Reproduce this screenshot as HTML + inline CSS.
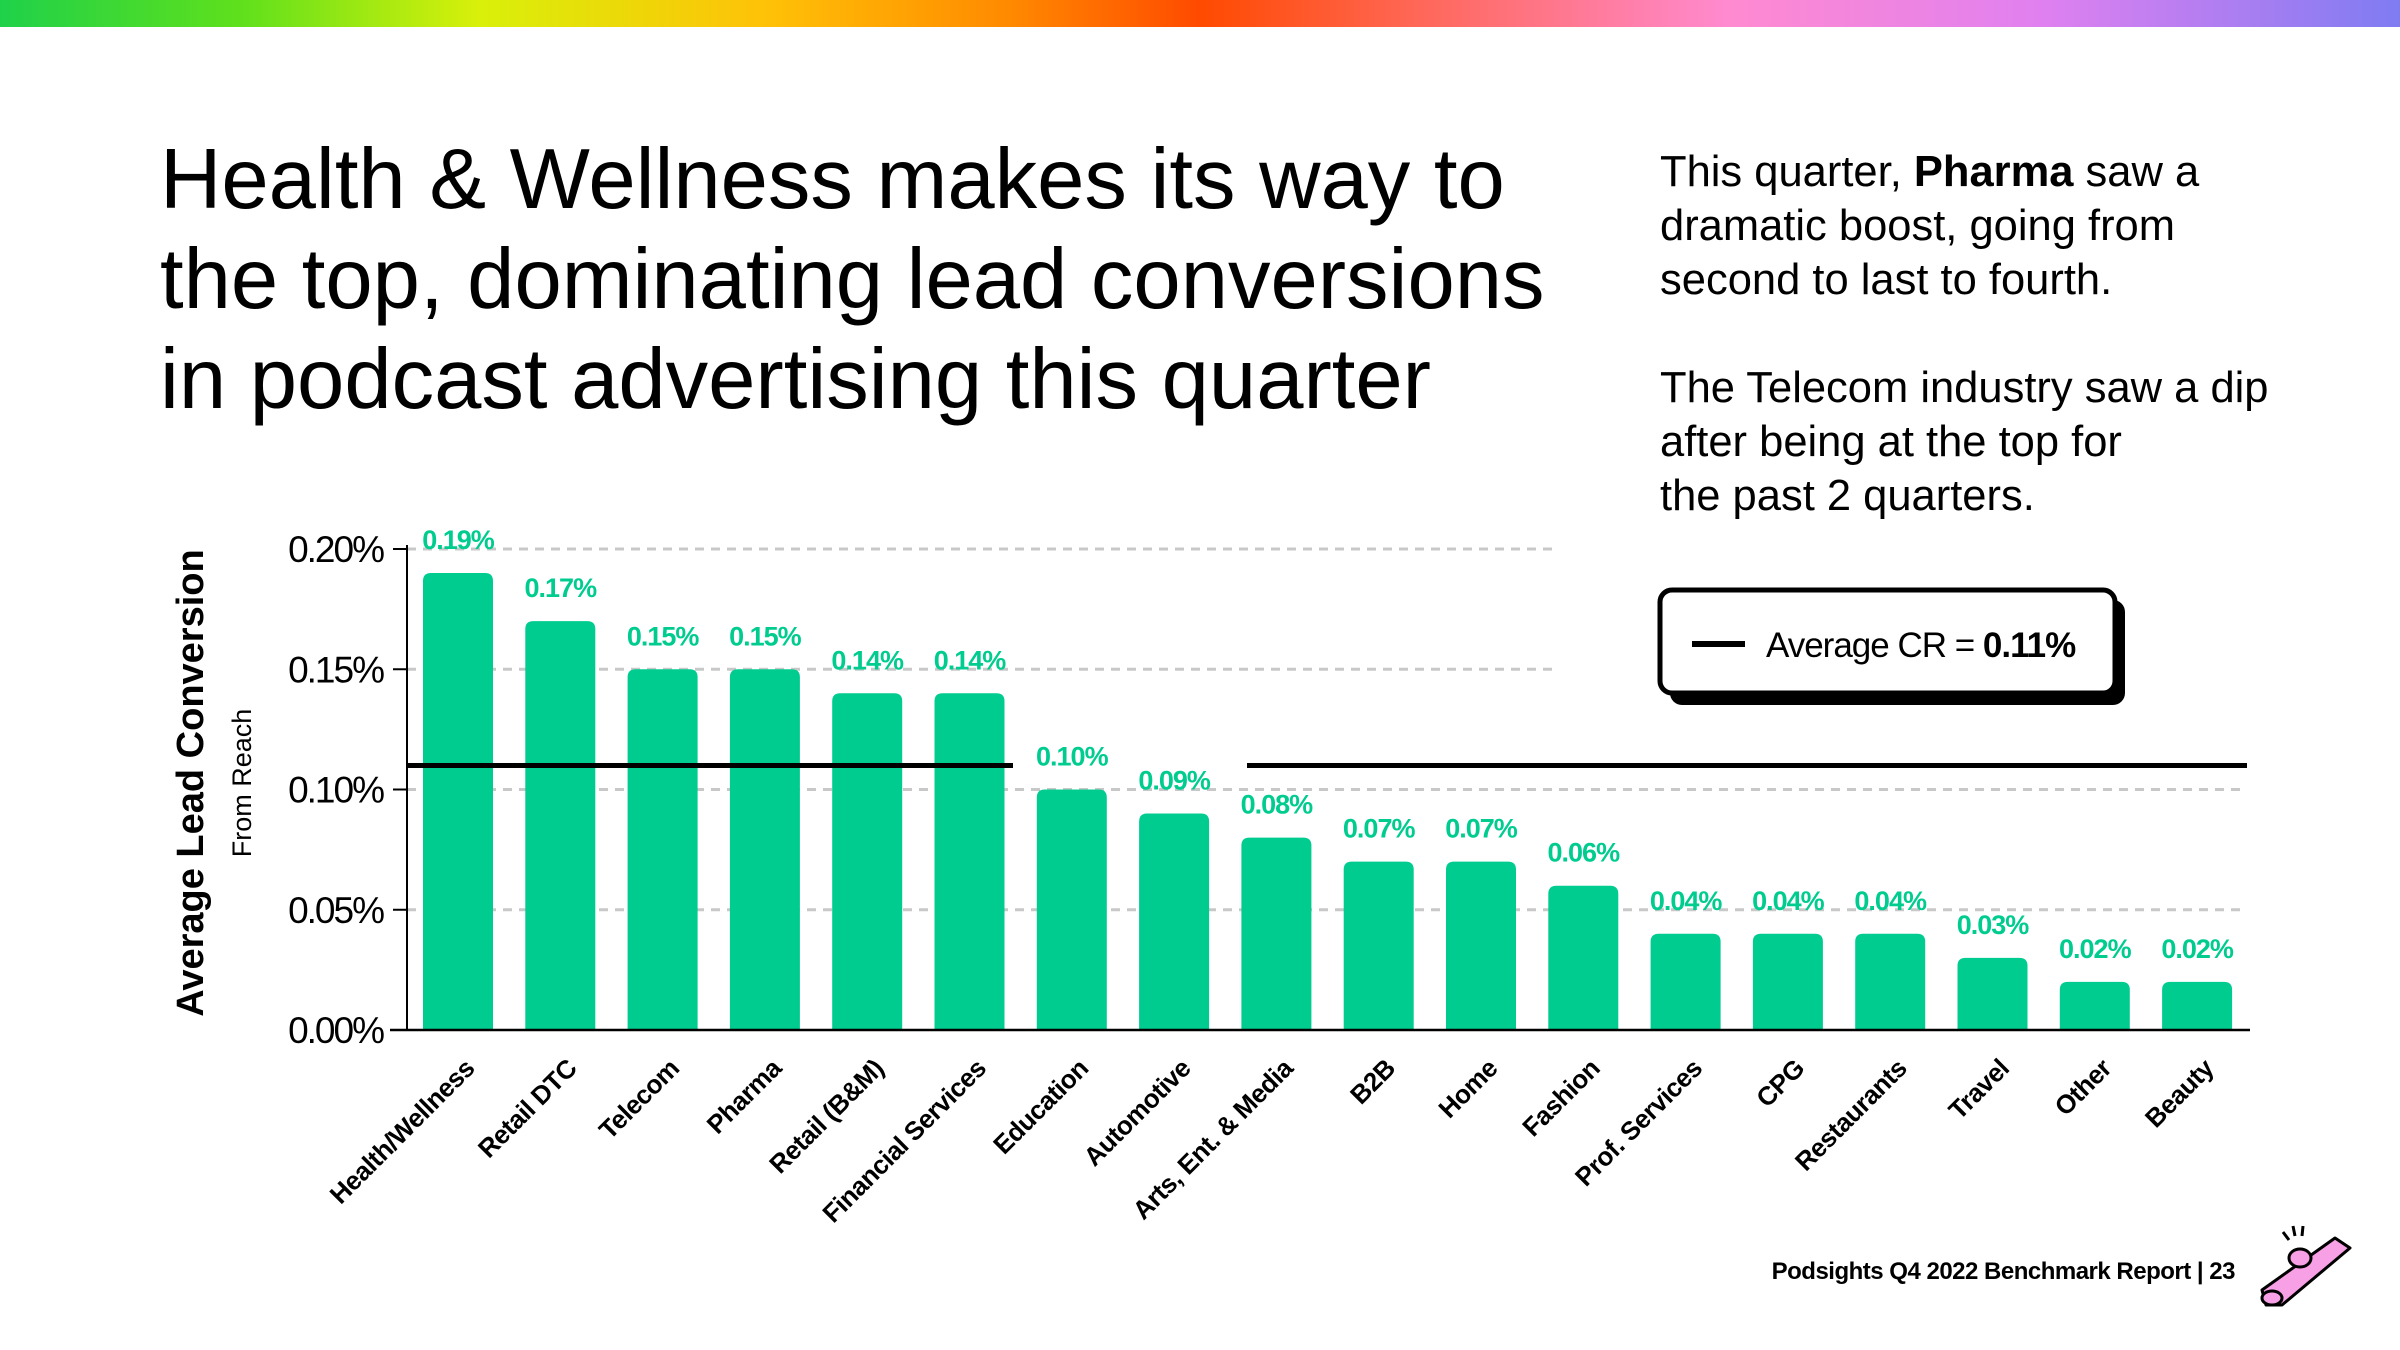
<!DOCTYPE html>
<html><head><meta charset="utf-8">
<style>
html,body{margin:0;padding:0;background:#fff;}
body{width:2400px;height:1350px;position:relative;overflow:hidden;font-family:"Liberation Sans","DejaVu Sans",sans-serif;color:#000;}
#rainbow{position:absolute;left:0;top:0;width:2400px;height:27px;background:linear-gradient(90deg,#1fd14a 0%,#5fe01c 10%,#d9f00a 20%,#ffc107 32%,#ff8a00 42%,#ff4a00 50%,#ff6a60 60%,#ff8ad0 72%,#e080f0 85%,#7f7cf2 100%);}
#title{position:absolute;left:160px;top:130px;font-size:85px;line-height:100px;letter-spacing:0;}
#side{position:absolute;left:1660px;top:145px;font-size:43.5px;line-height:54px;letter-spacing:0;}
#footer{position:absolute;right:165px;top:1258px;font-size:24px;font-weight:bold;letter-spacing:-0.5px;}
</style></head><body>
<div id="rainbow"></div>
<div id="title">Health &amp; Wellness makes its way to<br>the top, dominating lead conversions<br>in podcast advertising this quarter</div>
<div id="side">This quarter, <b>Pharma</b> saw a<br>dramatic boost, going from<br>second to last to fourth.<br><br>The Telecom industry saw a dip<br>after being at the top for<br>the past 2 quarters.</div>
<div id="footer">Podsights Q4 2022 Benchmark Report | 23</div>
<svg id="chart" width="2400" height="1350" style="position:absolute;left:0;top:0"></svg>
<script>
const categories=["Health/Wellness","Retail DTC","Telecom","Pharma","Retail (B&M)","Financial Services","Education","Automotive","Arts, Ent. & Media","B2B","Home","Fashion","Prof. Services","CPG","Restaurants","Travel","Other","Beauty"];
const values=[0.19,0.17,0.15,0.15,0.14,0.14,0.10,0.09,0.08,0.07,0.07,0.06,0.04,0.04,0.04,0.03,0.02,0.02];
const valueLabels=["0.19%","0.17%","0.15%","0.15%","0.14%","0.14%","0.10%","0.09%","0.08%","0.07%","0.07%","0.06%","0.04%","0.04%","0.04%","0.03%","0.02%","0.02%"];
const ticks=[0,0.05,0.10,0.15,0.20];
const tickLabels=["0.00%","0.05%","0.10%","0.15%","0.20%"];
const average=0.11;

const NS="http://www.w3.org/2000/svg";
const svg=document.getElementById('chart');
const x0=407,yBase=1030,yTop=549,step=102.3,firstC=458,bw=70;
function y(v){return yBase-(v/0.20)*(yBase-yTop);}
function xc(i){return firstC+i*step;}
function mk(t,a,p){const e=document.createElementNS(NS,t);for(const k in a)e.setAttribute(k,a[k]);(p||svg).appendChild(e);return e;}
const G="#00cc8f";
ticks.forEach((t,i)=>{
  const yy=y(t);
  if(t>0){
    const g=mk('line',{x1:x0,x2:t>=0.15?1555:2247,y1:yy,y2:yy,stroke:'#c8c8c8','stroke-width':3,'stroke-dasharray':'9 7'});
    
    
  }
  mk('line',{x1:x0-14,x2:x0,y1:yy,y2:yy,stroke:'#000','stroke-width':2});
  const tl=mk('text',{x:x0-24,y:yy+13,'text-anchor':'end','font-size':37,'letter-spacing':-2});
  tl.textContent=tickLabels[i];
  
  
});
values.forEach((v,i)=>{
  const top=y(v);
  const b=mk('path',{d:`M${xc(i)-bw/2},${yBase} V${top+8} Q${xc(i)-bw/2},${top} ${xc(i)-bw/2+8},${top} H${xc(i)+bw/2-8} Q${xc(i)+bw/2},${top} ${xc(i)+bw/2},${top+8} V${yBase} Z`,fill:G});
  
  
  const l=mk('text',{x:xc(i),y:top-24,'text-anchor':'middle','font-size':27,'font-weight':'bold',fill:G,'letter-spacing':-1});
  l.textContent=valueLabels[i];
  
  
  const c=mk('text',{x:0,y:0,'text-anchor':'end','font-size':26,'font-weight':'bold','letter-spacing':-0.5,transform:`translate(${xc(i)+18},${yBase+40}) rotate(-45)`});
  c.textContent=categories[i];
  
  
});
const ya=mk('line',{x1:x0,x2:x0,y1:yTop-4,y2:yBase,stroke:'#000','stroke-width':2});


const xa=mk('line',{x1:390,x2:2250,y1:yBase,y2:yBase,stroke:'#000','stroke-width':2.5});


const ay=y(average);
const a1=mk('line',{x1:x0,x2:1013,y1:ay,y2:ay,stroke:'#000','stroke-width':5});


const a2=mk('line',{x1:1247,x2:2247,y1:ay,y2:ay,stroke:'#000','stroke-width':5});


const yt=mk('text',{x:0,y:0,'text-anchor':'middle','font-size':38,'font-weight':'bold',transform:'translate(203,783) rotate(-90)'});
yt.textContent='Average Lead Conversion';


const ys=mk('text',{x:0,y:0,'text-anchor':'middle','font-size':27,transform:'translate(251,783) rotate(-90)'});
ys.textContent='From Reach';


const lg=mk('g',{});


mk('rect',{x:1670,y:600,width:455,height:105,rx:12,fill:'#000'},lg);
mk('rect',{x:1660,y:590,width:455,height:103,rx:12,fill:'#fff',stroke:'#000','stroke-width':5},lg);
mk('line',{x1:1692,x2:1745,y1:644,y2:644,stroke:'#000','stroke-width':6},lg);
const lt=mk('text',{x:1766,y:657,'font-size':35,'letter-spacing':-1},lg);
lt.innerHTML='Average CR = <tspan font-weight="bold">0.11%</tspan>';


const k=mk('g',{});


mk('path',{d:'M2262,1290 L2335,1238 L2350,1248 L2282,1305 L2266,1305 Z',fill:'#f7a0e6',stroke:'#000','stroke-width':3,'stroke-linejoin':'round'},k);
mk('ellipse',{cx:2272,cy:1298,rx:10,ry:7,fill:'#f7a0e6',stroke:'#000','stroke-width':3},k);
mk('ellipse',{cx:2300,cy:1258,rx:11,ry:9,fill:'#f7a0e6',stroke:'#000','stroke-width':3},k);
mk('path',{d:'M2283,1232 l6,8 M2293,1226 l2,10 M2303,1226 l-1,10',stroke:'#000','stroke-width':3},k);
</script>
</body></html>
